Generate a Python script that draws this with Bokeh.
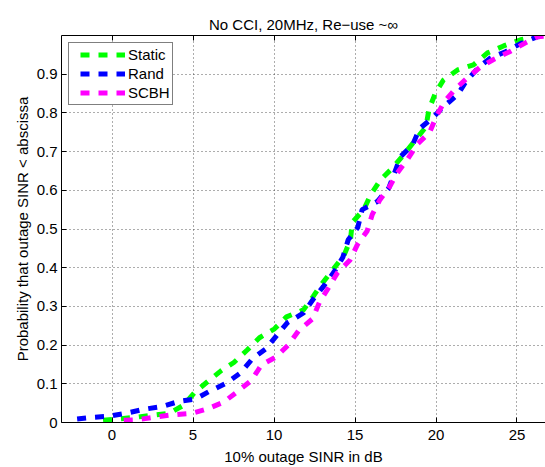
from bokeh.plotting import figure
from bokeh.models import Range1d, FixedTicker, LinearAxis, Legend, LegendItem
from bokeh.embed import file_html
from bokeh.resources import INLINE

# ---- data ----
static_x = [-1.1, -0.85, 0.28, 1.38, 2.48, 3.55, 4.43, 5.11, 5.91, 6.74, 7.52, 8.36, 9.10,
            10.03, 10.77, 11.82, 12.42, 12.98, 13.65, 14.31, 14.72, 14.83, 15.54, 15.96,
            16.57, 17.30, 17.91, 18.73, 19.38, 19.56, 19.97, 20.46, 21.33, 22.31, 23.18,
            24.17, 25.22, 26.3, 27.2]
static_y = [0.002, 0.005, 0.009, 0.013, 0.019, 0.024, 0.045, 0.078, 0.106, 0.134, 0.155,
            0.188, 0.219, 0.242, 0.273, 0.291, 0.326, 0.360, 0.396, 0.431, 0.472, 0.517,
            0.550, 0.588, 0.627, 0.657, 0.687, 0.730, 0.764, 0.808, 0.852, 0.885, 0.911,
            0.924, 0.955, 0.973, 0.989, 0.998, 1.0]

rand_x = [-2.7, -2.44, -1.33, -0.22, 0.90, 1.94, 3.06, 4.10, 5.15, 6.08, 7.11, 7.93, 8.65,
          9.48, 10.15, 10.83, 11.82, 12.46, 13.04, 13.69, 14.25, 14.58, 15.17, 15.44,
          16.37, 17.09, 17.44, 17.81, 18.55, 18.98, 19.78, 20.52, 21.33, 21.88, 22.62,
          23.36, 24.29, 25.22, 26.27, 27.2]
rand_y = [0.005, 0.008, 0.013, 0.016, 0.024, 0.034, 0.041, 0.054, 0.061, 0.082, 0.103,
          0.128, 0.164, 0.190, 0.224, 0.258, 0.283, 0.321, 0.351, 0.388, 0.427, 0.472,
          0.504, 0.550, 0.571, 0.606, 0.645, 0.687, 0.717, 0.759, 0.787, 0.818, 0.847,
          0.883, 0.917, 0.942, 0.958, 0.979, 0.997, 1.0]

scbh_x = [0.2, 0.42, 1.55, 2.69, 3.75, 4.95, 5.88, 6.90, 7.62, 8.61, 9.23, 10.15, 10.90,
          11.51, 12.38, 12.82, 13.38, 13.90, 14.68, 15.14, 15.75, 16.06, 16.53, 17.09,
          17.60, 18.22, 18.86, 19.60, 20.04, 20.52, 21.20, 21.94, 22.69, 23.55, 24.54,
          25.52, 26.27, 27.2]
scbh_y = [0.0, 0.005, 0.007, 0.014, 0.020, 0.024, 0.035, 0.053, 0.076, 0.109, 0.149, 0.170,
          0.201, 0.237, 0.268, 0.312, 0.349, 0.386, 0.419, 0.459, 0.495, 0.537, 0.575,
          0.606, 0.644, 0.679, 0.720, 0.749, 0.793, 0.829, 0.862, 0.891, 0.917, 0.938,
          0.958, 0.981, 0.997, 1.0]

x_ticks = [0, 5, 10, 15, 20, 25]
y_ticks = [0, 0.1, 0.2, 0.3, 0.4, 0.5, 0.6, 0.7, 0.8, 0.9]
y_tick_labels = ["0", "0.1", "0.2", "0.3", "0.4", "0.5", "0.6", "0.7", "0.8", "0.9"]

series_names = ["Static", "Rand", "SCBH"]
series_colors = ["#00ff00", "#0000ff", "#ff00ff"]

FONT = "Liberation Sans"
FS = "15px"

p = figure(width=545, height=467, output_backend="svg", toolbar_location=None,
           x_range=Range1d(-3.12, 26.76), y_range=Range1d(0, 1),
           min_border_left=61, min_border_right=0, min_border_top=35,
           min_border_bottom=44)
p.outline_line_color = None
p.background_fill_color = "white"
p.border_fill_color = "white"

p.title.text = "No CCI, 20MHz, Re\u2212use ~\u221e"
p.title.align = "center"
p.title.text_font = FONT
p.title.text_font_size = FS
p.title.text_font_style = "normal"
p.title.text_color = "black"
p.title.standoff = 6

for ax in (p.xaxis[0], p.yaxis[0]):
    ax.major_tick_in = 5
    ax.major_tick_out = 0
    ax.minor_tick_in = 0
    ax.minor_tick_out = 0
    ax.axis_line_color = "black"
    ax.axis_line_width = 1
    ax.major_tick_line_color = "black"
    ax.major_label_text_font = FONT
    ax.major_label_text_font_size = FS
    ax.major_label_text_color = "black"
    ax.axis_label_text_font = FONT
    ax.axis_label_text_font_size = FS
    ax.axis_label_text_font_style = "normal"
    ax.axis_label_text_color = "black"

p.xaxis.ticker = FixedTicker(ticks=x_ticks)
p.yaxis.ticker = FixedTicker(ticks=y_ticks)
p.yaxis.major_label_overrides = {t: l for t, l in zip(y_ticks, y_tick_labels)}
p.xaxis.axis_label = "10% outage SINR in dB"
p.yaxis.axis_label = "Probability that outage SINR < abscissa"
p.xaxis.major_label_standoff = 7
p.xaxis.axis_label_standoff = 5
p.yaxis.major_label_standoff = 4
p.yaxis.axis_label_standoff = 3

top = LinearAxis(ticker=FixedTicker(ticks=x_ticks))
top.major_tick_in = 5
top.major_tick_out = 0
top.minor_tick_in = 0
top.minor_tick_out = 0
top.major_label_overrides = {t: "" for t in x_ticks}
top.major_label_standoff = 0
top.axis_line_color = "black"
p.add_layout(top, "above")

for g in (p.xgrid[0], p.ygrid[0]):
    g.grid_line_color = "#333333"
    g.grid_line_dash = "1 3"
    g.grid_line_width = 1
    g.grid_line_alpha = 0.8
p.xgrid.ticker = FixedTicker(ticks=x_ticks)
p.ygrid.ticker = FixedTicker(ticks=y_ticks)

renderers = []
for xs, ys, col in zip([static_x, rand_x, scbh_x], [static_y, rand_y, scbh_y], series_colors):
    r = p.line(xs, ys, line_color=col, line_width=5, line_dash="9 9",
               line_dash_offset=9, line_cap="butt")
    renderers.append(r)

legend = Legend(items=[LegendItem(label=n, renderers=[r]) for n, r in zip(series_names, renderers)],
                location="top_left")
legend.margin = 7
legend.padding = 2
legend.spacing = 0
legend.glyph_width = 54
legend.glyph_height = 19
legend.label_height = 19
legend.label_standoff = 3
legend.label_text_font = FONT
legend.label_text_font_size = FS
legend.label_text_color = "black"
legend.border_line_color = "black"
legend.border_line_width = 1
legend.background_fill_color = "white"
legend.background_fill_alpha = 1
p.add_layout(legend, "center")

open("out.html", "w").write(file_html(p, INLINE))
